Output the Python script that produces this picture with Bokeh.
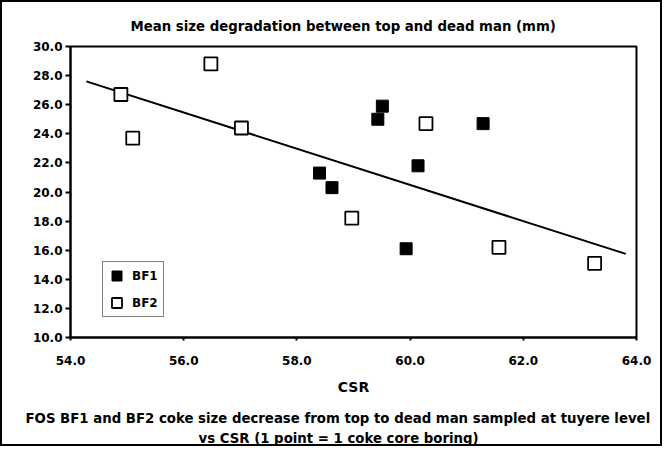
from bokeh.plotting import figure
from bokeh.models import Legend, LegendItem, Title, FixedTicker, NumeralTickFormatter, Range1d
from bokeh.embed import file_html
from bokeh.resources import INLINE

# data
bf1_csr = [58.40, 58.62, 59.51, 59.43, 60.14, 61.29, 59.93]
bf1_size = [21.3, 20.3, 25.9, 25.0, 21.8, 24.7, 16.1]
bf2_csr = [54.89, 55.10, 56.48, 57.02, 58.97, 60.28, 61.57, 63.26]
bf2_size = [26.7, 23.7, 28.8, 24.4, 18.2, 24.7, 16.2, 15.1]
trend_csr = [54.28, 63.81]
trend_size = [27.6, 15.75]
x_ticks = [54, 56, 58, 60, 62, 64]
y_ticks = [10, 12, 14, 16, 18, 20, 22, 24, 26, 28, 30]

FONT = "DejaVu Sans"
TXT = "13.3px"

p = figure(width=662, height=446, output_backend="svg", toolbar_location=None,
           x_range=Range1d(54, 64), y_range=Range1d(10, 30),
           min_border_left=68, min_border_right=28, min_border_top=44, min_border_bottom=111,
           background_fill_color="white", border_fill_color="white")
p.styles = {"border": "2px solid black"}

p.title.text = "Mean size degradation between top and dead man (mm)"
p.title.align = "left"
p.title.offset = 60
p.title.standoff = 25
p.title.text_font = FONT
p.title.text_font_size = TXT
p.title.text_font_style = "bold"
p.title.text_color = "black"

p.xgrid.visible = False
p.ygrid.visible = False
p.outline_line_color = "black"
p.outline_line_width = 2

for ax in (p.xaxis[0], p.yaxis[0]):
    ax.axis_line_width = 2
    ax.axis_line_color = "black"
    ax.major_tick_line_width = 2
    ax.major_tick_out = 5
    ax.major_tick_in = 0
    ax.minor_tick_out = 0
    ax.minor_tick_in = 0
    ax.major_label_text_font = FONT
    ax.major_label_text_font_size = "12px"
    ax.major_label_text_font_style = "bold"
    ax.major_label_text_color = "black"
    ax.formatter = NumeralTickFormatter(format="0.0")

p.xaxis.ticker = FixedTicker(ticks=x_ticks)
p.yaxis.ticker = FixedTicker(ticks=y_ticks)
p.xaxis.major_tick_out = 3
p.xaxis.major_label_standoff = 15
p.yaxis.major_label_standoff = 3
p.xaxis.axis_label = "CSR"
p.xaxis.axis_label_text_font = FONT
p.xaxis.axis_label_text_font_size = "14px"
p.xaxis.axis_label_text_font_style = "bold"
p.xaxis.axis_label_text_color = "black"
p.xaxis.axis_label_standoff = 11

p.line(trend_csr, trend_size, line_color="black", line_width=2)
r1 = p.scatter(bf1_csr, bf1_size, marker="square", size=12, fill_color="black",
               line_color="black", line_width=1)
r2 = p.scatter(bf2_csr, bf2_size, marker="square", size=13, fill_color="white",
               line_color="black", line_width=1.8)

legend = Legend(items=[LegendItem(label="BF1", renderers=[r1]),
                       LegendItem(label="BF2", renderers=[r2])],
                location=(32, 20), label_text_font=FONT, label_text_font_size="12px",
                label_text_font_style="bold", label_text_color="black",
                border_line_color="black", border_line_width=1,
                glyph_width=25, glyph_height=25, spacing=2, padding=1, margin=0,
                label_standoff=3, label_width=30)
p.add_layout(legend, "center")

cap1 = Title(text="FOS BF1 and BF2 coke size decrease from top to dead man sampled at tuyere level",
             align="left", offset=-45, standoff=22, text_font=FONT, text_font_size=TXT,
             text_font_style="bold", text_color="black")
cap2 = Title(text="vs CSR (1 point = 1 coke core boring)",
             align="left", offset=128, standoff=-18, text_font=FONT, text_font_size=TXT,
             text_font_style="bold", text_color="black")
p.add_layout(cap1, "below")
p.add_layout(cap2, "below")

open("out.html", "w").write(file_html(p, INLINE))
